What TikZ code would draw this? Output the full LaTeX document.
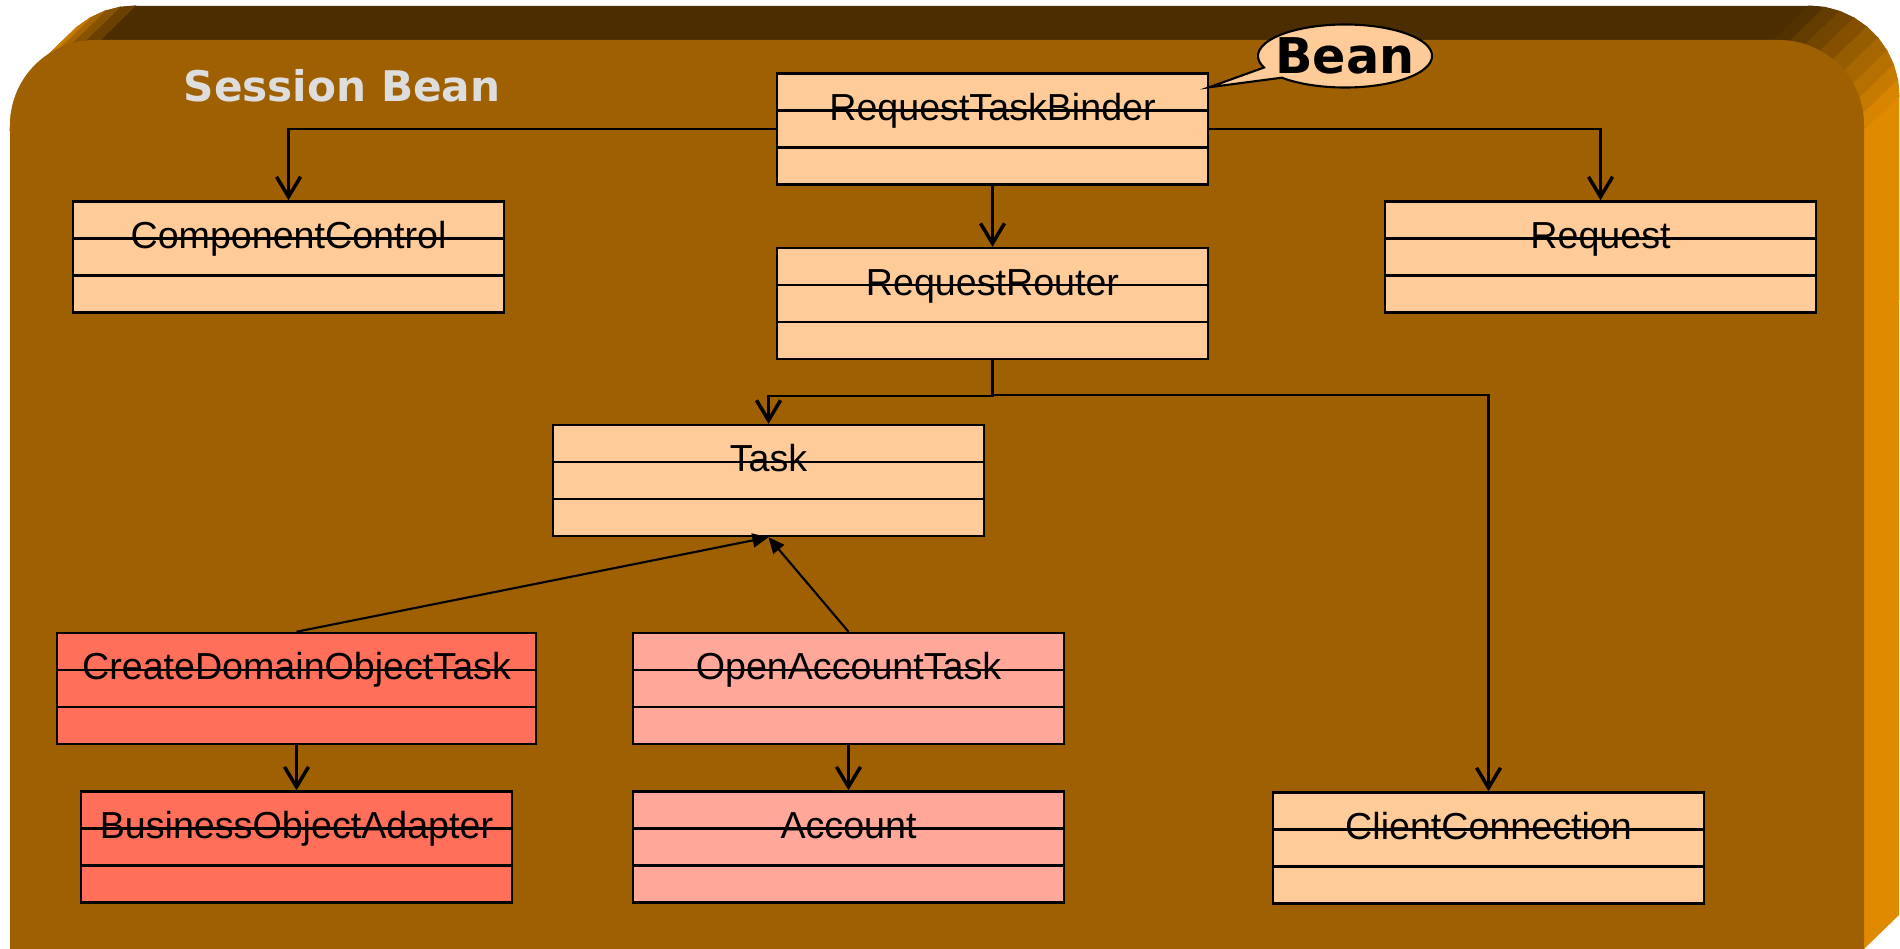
\documentclass[tikz,border=0pt]{standalone}
\usepackage{fontspec}
\setmainfont{Liberation Sans}
\newfontfamily\beanfont{DejaVu Sans}
\usepackage{tikz}
\usetikzlibrary{arrows.meta, positioning, calc, shapes.callouts}
\definecolor{FrameFront}{RGB}{158, 96, 0}
\definecolor{FrameTop}{RGB}{75, 45, 0}
\definecolor{FrameSide}{RGB}{224, 138, 0}
\definecolor{ClassPeach}{RGB}{255, 204, 153}
\definecolor{ClassTomato}{RGB}{255, 111, 89}
\definecolor{ClassSalmon}{RGB}{255, 168, 153}
\definecolor{TitleGray}{RGB}{221, 221, 221}
\tikzset{
  classbox/.style={rectangle, draw=black, line width=0.7pt, fill=ClassPeach,
    minimum width=4.31cm, minimum height=1.11cm, inner sep=0pt,
    text height=0.27cm, text depth=0.44cm,
    font=\fontsize{10.7}{12}\selectfont,
    path picture={
      \draw[line width=0.7pt]
        ($(path picture bounding box.north west)!1/3!(path picture bounding box.south west)$) --
        ($(path picture bounding box.north east)!1/3!(path picture bounding box.south east)$)
        ($(path picture bounding box.north west)!2/3!(path picture bounding box.south west)$) --
        ($(path picture bounding box.north east)!2/3!(path picture bounding box.south east)$);}},
  beancallout/.style={ellipse callout, draw=black, line width=0.6pt,
    fill=ClassPeach, minimum width=1.74cm, minimum height=0.63cm, inner sep=0pt,
    callout pointer arc=22},
  beantext/.style={font=\beanfont\bfseries\fontsize{14}{16}\selectfont},
  sessiontitle/.style={font=\beanfont\bfseries\fontsize{12}{14}\selectfont,
    text=TitleGray, inner sep=0pt},
  dep/.style={-{Straight Barb[length=0.2cm, width=0.24cm, line width=1pt]},
    line width=0.6pt},
  gen/.style={-{Triangle[length=0.16cm, width=0.14cm]}, line width=0.6pt},
}

\begin{document}
\begin{tikzpicture}[x=0.01cm, y=-0.01cm]
  \useasboundingbox (0,0) rectangle (1900,949);
  \clip (0,0) rectangle (1900,949);

  % 3d frame
  \fill[FrameTop, rounded corners=0.9cm] (45,300) -- (45,6) -- (1899,6) -- (1899,300);
  \foreach \a in {-90,-80,...,-10}{
    \pgfmathsetmacro\b{\a+10}
    \pgfmathtruncatemacro\p{(\a+95)/0.9}
    \colorlet{segcol}{FrameSide!\p!FrameTop}
    \filldraw[fill=segcol, draw=segcol, line width=0.3pt]
      ($(1774,130)+(\a:90)$) -- ($(1774,130)+(\b:90)$) --
      ($(1809,96)+(\b:90)$) -- ($(1809,96)+(\a:90)$) -- cycle;
  }
  \foreach \a in {-100,-110,...,-180}{
    \pgfmathsetmacro\b{\a+10}
    \pgfmathtruncatemacro\p{min(85,(-90-\a)*2)}
    \colorlet{segcol}{FrameSide!\p!FrameTop}
    \filldraw[fill=segcol, draw=segcol, line width=0.3pt]
      ($(100,130)+(\a:90)$) -- ($(100,130)+(\b:90)$) --
      ($(135,96)+(\b:90)$) -- ($(135,96)+(\a:90)$) -- cycle;
  }
  \fill[FrameSide] (1864,130) -- (1899,96) -- (1899,915) -- (1864,949) -- cycle;
  \fill[FrameFront, rounded corners=0.85cm] (10,1100) -- (10,40) -- (1864,40) -- (1864,1100);
  \node[sessiontitle, anchor=base] (title) at (342,102) {Session Bean};

  % classes
  \node[classbox] (binder) at (992.5,129) {RequestTaskBinder};
  \node[classbox, below=0.61cm of binder] (router) {RequestRouter};
  \node[classbox] (control) at (288.5,257) {ComponentControl};
  \node[classbox] (request) at (1600.5,257) {Request};
  \node[classbox] (task) at (768.5,480.5) {Task};
  \node[classbox, fill=ClassTomato, minimum width=4.79cm] (createtask)
    at (296.5,688.5) {CreateDomainObjectTask};
  \node[classbox, fill=ClassSalmon] (opentask) at (848.5,688.5) {OpenAccountTask};
  \node[classbox, fill=ClassTomato, below=0.45cm of createtask] (adapter)
    {BusinessObjectAdapter};
  \node[classbox, fill=ClassSalmon, below=0.45cm of opentask] (account) {Account};
  \node[classbox] (client) at (1488.5,848) {ClientConnection};

  % bean callout
  \coordinate (beantip) at ($(binder.north east)+(0,15)$);
  \node[beancallout, callout absolute pointer=(beantip),
        label={[beantext]center:Bean}] (bean) at (1345,56) {};

  % connectors
  \draw[dep] (binder.west) -| (control.north);
  \draw[dep] (binder.east) -| (request.north);
  \draw[dep] (binder) -- (router);
  \draw[dep] (router.south) -- ++(0,36) -| (task.north);
  \draw[dep] (router.south) -- ++(0,35) -| (client.north);
  \draw[gen] (createtask.north) -- (task.south);
  \draw[gen] (opentask.north) -- (task.south);
  \draw[dep] (createtask) -- (adapter);
  \draw[dep] (opentask) -- (account);
\end{tikzpicture}
\end{document}
